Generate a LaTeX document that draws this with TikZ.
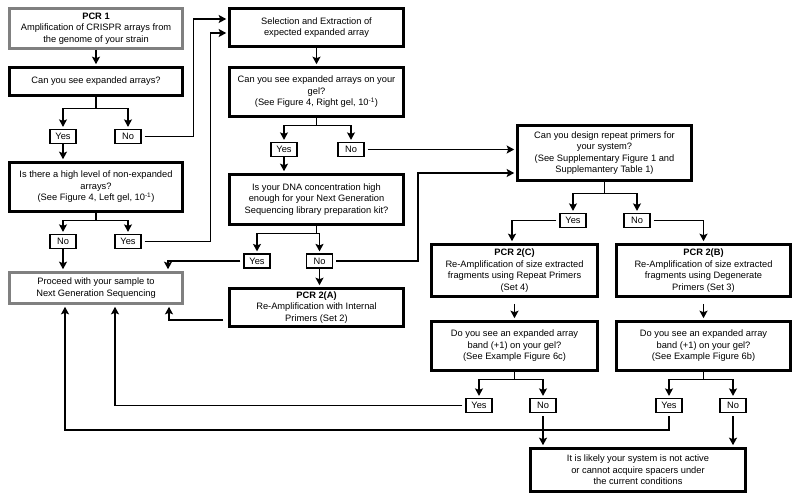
\documentclass[tikz,border=0pt]{standalone}
\usepackage{fontspec}
\setmainfont{Liberation Sans}
\usetikzlibrary{arrows.meta}
\definecolor{boxgrey}{RGB}{128,128,128}
\newcommand\diagfont{\fontsize{9.3}{11.5}\selectfont}
\begin{document}
\begin{tikzpicture}[x=1pt,y=-1pt,
  box/.style={draw=black, line width=2.6pt, fill=white, align=center, inner sep=1pt, font=\diagfont},
  greybox/.style={box, draw=boxgrey},
  yn/.style={draw=black, line width=1.2pt, fill=white, minimum width=26pt, minimum height=14pt, inner sep=0pt, font=\diagfont},
  conn/.style={line width=1.3pt},
  arr/.style={conn, -{Stealth[length=7.5pt,width=8pt,inset=1.5pt]}, shorten >=2pt},
  fromyn/.style={shorten <=3pt}
]
\useasboundingbox (0,0) rectangle (800,501);

% left column
\node[greybox, minimum width=173pt, minimum height=40pt] (pcr1) at (96,28.5) {\textbf{PCR 1}\\Amplification of CRISPR arrays from\\the genome of your strain};
\node[box, minimum width=173pt, minimum height=28pt] (q1) at (96,81.5) {Can you see expanded arrays?};
\node[yn] (yes1) at (63,136.5) {Yes};
\node[yn] (no1) at (128,136.5) {No};
\node[box, minimum width=173pt, minimum height=49pt] (q2) at (96,187) {Is there a high level of non-expanded\\arrays?\\(See Figure 4, Left gel, 10\textsuperscript{-1})};
\node[yn] (no2) at (63,241.5) {No};
\node[yn] (yes2) at (128,241.5) {Yes};
\node[greybox, minimum width=173pt, minimum height=31pt] (proceed) at (96,288) {Proceed with your sample to\\Next Generation Sequencing};

% middle column
\node[box, minimum width=174pt, minimum height=38pt] (sel) at (316.5,27.5) {Selection and Extraction of\\expected expanded array};
\node[box, minimum width=174pt, minimum height=49pt] (q3) at (316.5,92) {Can you see expanded arrays on your\\gel?\\(See Figure 4, Right gel, 10\textsuperscript{-1})};
\node[yn] (yes3) at (284,149.5) {Yes};
\node[yn] (no3) at (351,149.5) {No};
\node[box, minimum width=174pt, minimum height=50pt] (q4) at (316.5,199.5) {Is your DNA concentration high\\enough for your Next Generation\\Sequencing library preparation kit?};
\node[yn] (yes4) at (257,261) {Yes};
\node[yn] (no4) at (319.5,261) {No};
\node[box, minimum width=174pt, minimum height=38pt] (pcr2a) at (316.5,307.5) {\textbf{PCR 2(A)}\\Re-Amplification with Internal\\Primers (Set 2)};

% right part
\node[box, minimum width=174pt, minimum height=55pt] (design) at (604.5,153) {Can you design repeat primers for\\your system?\\(See Supplementary Figure 1 and\\Supplemantery Table 1)};
\node[yn] (yes5) at (573,220.5) {Yes};
\node[yn] (no5) at (637,220.5) {No};
\node[box, minimum width=166pt, minimum height=52pt] (pcr2c) at (514.5,270.5) {\textbf{PCR 2(C)}\\Re-Amplification of size extracted\\fragments using Repeat Primers\\(Set 4)};
\node[box, minimum width=174pt, minimum height=52pt] (pcr2b) at (703.5,270.5) {\textbf{PCR 2(B)}\\Re-Amplification of size extracted\\fragments using Degenerate\\Primers (Set 3)};
\node[box, minimum width=166pt, minimum height=49pt] (q5) at (514.5,346) {Do you see an expanded array\\band (+1) on your gel?\\(See Example Figure 6c)};
\node[box, minimum width=174pt, minimum height=49pt] (q6) at (703.5,346) {Do you see an expanded array\\band (+1) on your gel?\\(See Example Figure 6b)};
\node[yn] (yes6) at (479,405.5) {Yes};
\node[yn] (no6) at (543,405.5) {No};
\node[yn] (yes7) at (669,405.5) {Yes};
\node[yn] (no7) at (733,405.5) {No};
\node[box, minimum width=215pt, minimum height=43pt] (final) at (638,470) {It is likely your system is not active\\or cannot acquire spacers under\\the current conditions};

% connectors: left column
\draw[arr] (pcr1.south) -- (q1.north);
\draw[conn] (q1.south) -- ++(0,12) coordinate (b1);
\draw[arr] (b1) -| (yes1.north);
\draw[arr] (b1) -| (no1.north);
\draw[arr] (yes1.south) -- (yes1.south |- q2.north);
\draw[arr, fromyn] (no1.east) -- ++(52,0) |- ([yshift=8.5pt]sel.west);
\draw[conn] (q2.south) -- ++(0,8) coordinate (b2);
\draw[arr] (b2) -| (no2.north);
\draw[arr] (b2) -| (yes2.north);
\draw[arr] (no2.south) -- (no2.south |- proceed.north);
\draw[arr, fromyn] (yes2.east) -- ++(69,0) |- ([yshift=-5.5pt]sel.west);

% middle column
\draw[arr] (sel.south) -- (q3.north);
\draw[conn] (q3.south) -- ++(0,8) coordinate (b3);
\draw[arr] (b3) -| (yes3.north);
\draw[arr] (b3) -| (no3.north);
\draw[arr] (yes3.south) -- (yes3.south |- q4.north);
\draw[arr, fromyn] (no3.east) -- (no3.east -| design.west);
\draw[conn] (q4.south) -- ++(0,8) coordinate (b4);
\draw[arr] (b4) -| (yes4.north);
\draw[arr] (b4) -| (no4.north);
\draw[arr, fromyn] (yes4.west) -| ([xshift=72pt]proceed.north);
\draw[arr, fromyn] (no4.east) -- ++(85,0) |- ([yshift=-20pt]design.west);
\draw[arr] (no4.south) -- (no4.south |- pcr2a.north);
\draw[arr, shorten <=5pt] ([yshift=-12.5pt]pcr2a.west) -| ([xshift=73pt]proceed.south);

% right part
\draw[conn] (design.south) -- ++(0,12) coordinate (b5);
\draw[arr] (b5) -| (yes5.north);
\draw[arr] (b5) -| (no5.north);
\draw[arr, fromyn] (yes5.west) -| ([xshift=-2.5pt]pcr2c.north);
\draw[arr, fromyn] (no5.east) -| (pcr2b.north);
\draw[arr] ([yshift=-6pt]pcr2c.south) -- (q5.north);
\draw[arr] ([yshift=-6pt]pcr2b.south) -- (q6.north);
\draw[conn] (q5.south) -- ++(0,8) coordinate (b6);
\draw[arr] (b6) -| (yes6.north);
\draw[arr] (b6) -| (no6.north);
\draw[conn] (q6.south) -- ++(0,8) coordinate (b7);
\draw[arr] (b7) -| (yes7.north);
\draw[arr] (b7) -| (no7.north);
\draw[arr, fromyn] (yes6.west) -| ([xshift=19pt]proceed.south);
\draw[arr, fromyn] (yes7.south) -- ++(0,17) -| ([xshift=-31pt]proceed.south);
\draw[arr, fromyn] (no6.south) -- (no6.south |- final.north);
\draw[arr, fromyn] (no7.south) -- (no7.south |- final.north);
\end{tikzpicture}
\end{document}
